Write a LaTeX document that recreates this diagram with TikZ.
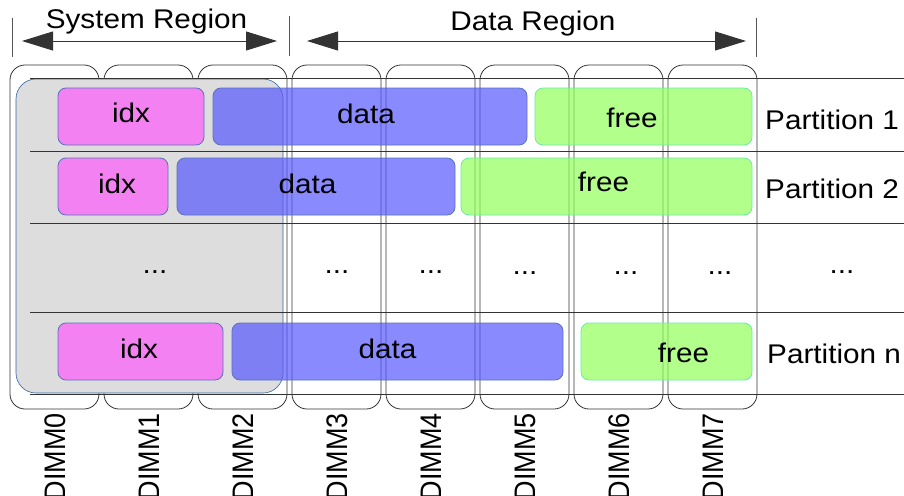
\documentclass[tikz,border=0pt]{standalone}
\usepackage{fontspec}
\setmainfont{Liberation Sans}
\usetikzlibrary{arrows.meta}
\definecolor{linec}{HTML}{333333}
\definecolor{tickc}{HTML}{555555}
\definecolor{grayfill}{HTML}{DDDDDD}
\definecolor{grayedge}{HTML}{3465A4}
\definecolor{idxfill}{RGB}{255,91,251}
\definecolor{datafill}{RGB}{88,88,255}
\definecolor{freefill}{RGB}{145,255,91}
\definecolor{boxedge}{RGB}{87,115,189}
\definecolor{freeedge}{RGB}{102,238,160}
\newcommand\sx[1]{\scalebox{1.1}[1]{#1}}
\newcommand\sy[1]{\scalebox{1}[1.1]{#1}}
\begin{document}
\begin{tikzpicture}[x=1pt,y=-1pt,
  lbl/.style={font=\fontsize{27}{30}\selectfont, inner sep=0pt, anchor=base},
  vlbl/.style={font=\fontsize{27}{30}\selectfont, inner sep=0pt, rotate=90, anchor=east},
  dimmbox/.style={draw=linec, line width=0.8pt, rounded corners=15pt},
  rowline/.style={draw=linec, line width=0.9pt},
  tick/.style={draw=tickc, line width=0.8pt},
  region/.style={fill=grayfill, draw=grayedge, line width=0.6pt, rounded corners=20pt},
  idxbox/.style={fill=idxfill, draw=boxedge, fill opacity=0.7, line width=0.8pt, rounded corners=8pt},
  databox/.style={fill=datafill, draw=boxedge, fill opacity=0.7, line width=0.8pt, rounded corners=8pt},
  freebox/.style={fill=freefill, draw=freeedge, fill opacity=0.7, line width=0.8pt, rounded corners=8pt},
  span/.style={draw=linec, line width=0.9pt, {Triangle[length=31pt,width=19pt]}-{Triangle[length=31pt,width=19pt]}}
]
\useasboundingbox (0,0) rectangle (904,495);
\clip (0,0) rectangle (904,495);

% DIMM columns
\foreach \i in {0,...,7} {
  \draw[dimmbox] ({10+94*\i},65) rectangle ({99+94*\i},409);
}

% system region background
\draw[region] (16,79) rectangle (283,393);

% partition lines
\foreach \yy in {78,151,223,312,394} {
  \draw[rowline] (30,\yy) -- (904,\yy);
}

% region ticks and arrows
\draw[tick] (12,18) -- (12,57);
\draw[tick] (289,16) -- (289,56);
\draw[tick] (756,18) -- (756,57);
\coordinate (sl) at (22,41);
\coordinate (sr) at (277,41);
\coordinate (dl) at (307,41);
\coordinate (dr) at (746,41);
\draw[span] (sl) -- (sr);
\draw[span] (dl) -- (dr);
\node[lbl] (sysr) at (146.5,29) {\sx{System Region}};
\node[lbl] (datar) at (533,31) {\sx{Data Region}};

% partition 1
\draw[idxbox] (58,88) rectangle (204,145);
\draw[databox] (213,88) rectangle (527,145);
\draw[freebox] (535,88) rectangle (752,145);
\node[lbl] (i1) at (131,122) {\sx{idx}};
\node[lbl] (d1) at (366,123) {\sx{data}};
\node[lbl] (f1) at (632,127) {\sx{free}};
\node[lbl, anchor=base west] (p1) at (765,129) {\sx{Partition 1}};

% partition 2
\draw[idxbox] (58,158) rectangle (168,215);
\draw[databox] (177,158) rectangle (455,215);
\draw[freebox] (461,158) rectangle (752,215);
\node[lbl] (i2) at (117,193) {\sx{idx}};
\node[lbl] (d2) at (307.5,193) {\sx{data}};
\node[lbl] (f2) at (603.5,191) {\sx{free}};
\node[lbl, anchor=base west] (p2) at (765,198) {\sx{Partition 2}};

% dots row
\node[lbl] (e0) at (155,273) {\sx{...}};
\node[lbl] (e3) at (337,273) {\sx{...}};
\node[lbl] (e4) at (431,273) {\sx{...}};
\node[lbl] (e5) at (525,274) {\sx{...}};
\node[lbl] (e6) at (626,274) {\sx{...}};
\node[lbl] (e7) at (720,274) {\sx{...}};
\node[lbl] (e8) at (842,273) {\sx{...}};

% partition n
\draw[idxbox] (58,323) rectangle (223,380);
\draw[databox] (232,323) rectangle (563,380);
\draw[freebox] (581,323) rectangle (752,380);
\node[lbl] (in) at (139,358) {\sx{idx}};
\node[lbl] (dn) at (387.5,358) {\sx{data}};
\node[lbl] (fn) at (683.5,362) {\sx{free}};
\node[lbl, anchor=base west] (pn) at (767,363) {\sx{Partition n}};

% DIMM labels
\foreach \i in {0,...,7} {
  \node[vlbl] (dimm\i) at ({55.5+94*\i},413) {\sy{DIMM\i}};
}
\end{tikzpicture}
\end{document}
